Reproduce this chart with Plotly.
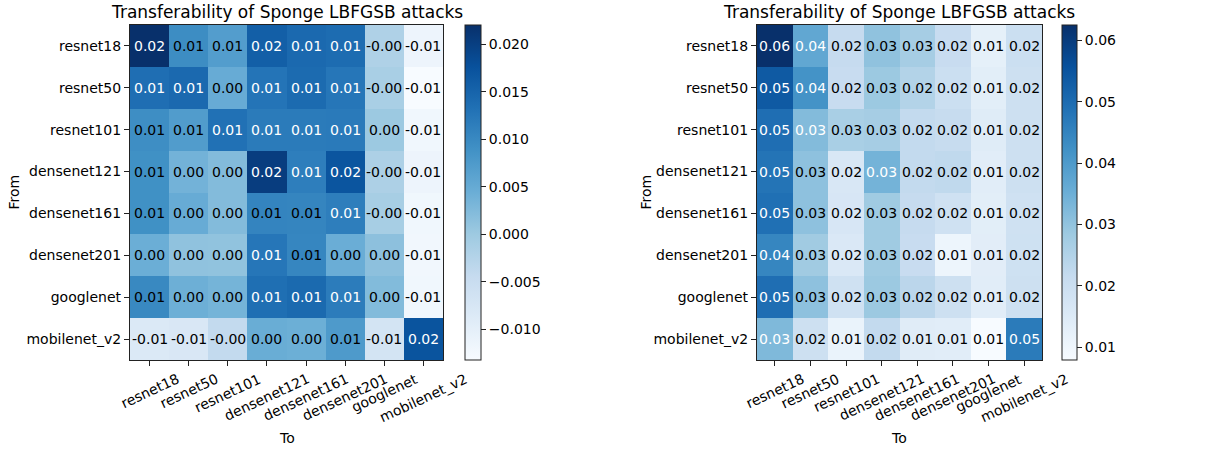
import plotly.graph_objects as go

# Model names (rows = source "From", columns = target "To")
models = ["resnet18", "resnet50", "resnet101", "densenet121",
          "densenet161", "densenet201", "googlenet", "mobilenet_v2"]

# Left panel: transferability scores
left_values = [
    [0.0220, 0.0095, 0.0070, 0.0157, 0.0143, 0.0139, -0.0019, -0.0114],
    [0.0136, 0.0143, 0.0048, 0.0128, 0.0140, 0.0125, -0.0012, -0.0132],
    [0.0093, 0.0072, 0.0132, 0.0118, 0.0118, 0.0120, 0.0002, -0.0120],
    [0.0090, 0.0037, 0.0023, 0.0202, 0.0115, 0.0171, -0.0016, -0.0114],
    [0.0090, 0.0048, 0.0023, 0.0107, 0.0105, 0.0115, -0.0010, -0.0120],
    [0.0044, 0.0012, 0.0011, 0.0125, 0.0104, 0.0045, 0.0015, -0.0122],
    [0.0100, 0.0042, 0.0035, 0.0135, 0.0142, 0.0117, 0.0024, -0.0120],
    [-0.0083, -0.0078, -0.0041, 0.0046, 0.0043, 0.0075, -0.0068, 0.0172],
]

# Right panel: transferability scores
right_values = [
    [0.0625, 0.0368, 0.0216, 0.0303, 0.0270, 0.0210, 0.0128, 0.0200],
    [0.0538, 0.0417, 0.0210, 0.0286, 0.0248, 0.0200, 0.0135, 0.0195],
    [0.0494, 0.0320, 0.0265, 0.0270, 0.0220, 0.0212, 0.0145, 0.0195],
    [0.0483, 0.0305, 0.0165, 0.0340, 0.0220, 0.0225, 0.0140, 0.0195],
    [0.0490, 0.0305, 0.0168, 0.0280, 0.0215, 0.0190, 0.0135, 0.0190],
    [0.0445, 0.0278, 0.0158, 0.0280, 0.0210, 0.0105, 0.0137, 0.0192],
    [0.0495, 0.0305, 0.0190, 0.0286, 0.0235, 0.0195, 0.0140, 0.0195],
    [0.0325, 0.0195, 0.0115, 0.0220, 0.0143, 0.0140, 0.0079, 0.0467],
]

title_text = "Transferability of Sponge LBFGSB attacks"

W, H = 1215, 452
FONT = "DejaVu Sans"

blues = [
    [0.000, "#f7fbff"], [0.125, "#deebf7"], [0.250, "#c6dbef"],
    [0.375, "#9ecae1"], [0.500, "#6baed6"], [0.625, "#4292c6"],
    [0.750, "#2171b5"], [0.875, "#08519c"], [1.000, "#08306b"],
]


def px_x(p):
    return p / W


def px_y(p):
    return 1 - p / H


panels = [
    dict(values=left_values, xl=130, xr=443, cbx=465, cbw=16,
         fmt=".3f", dtick=0.005, ytitle_x=13),
    dict(values=right_values, xl=757, xr=1042, cbx=1062, cbw=15,
         fmt=".2f", dtick=0.01, ytitle_x=645),
]
top_px, bot_px = 25, 360
nm = len(models)

fig = go.Figure()
annotations = []
layout_axes = {}

for i, p in enumerate(panels):
    n = i + 1
    xa = "x" if n == 1 else f"x{n}"
    ya = "y" if n == 1 else f"y{n}"
    vals = p["values"]
    flat = [v for row in vals for v in row]
    zmin, zmax = min(flat), max(flat)

    fig.add_trace(go.Heatmap(
        z=vals, x=models, y=models, xaxis=xa, yaxis=ya,
        zmin=zmin, zmax=zmax, colorscale=blues,
        colorbar=dict(
            x=px_x(p["cbx"]), xanchor="left",
            y=(px_y(top_px) + px_y(bot_px)) / 2, yanchor="middle",
            len=(bot_px - top_px) / H, lenmode="fraction",
            thickness=p["cbw"], thicknessmode="pixels",
            xpad=0, ypad=0,
            outlinecolor="#222", outlinewidth=1,
            ticks="outside", ticklen=5, tickcolor="#222",
            tickformat=p["fmt"], tick0=0, dtick=p["dtick"],
            tickfont=dict(family=FONT, size=14, color="black"),
        ),
    ))

    dom_x = [px_x(p["xl"]), px_x(p["xr"])]
    dom_y = [px_y(bot_px), px_y(top_px)]
    axis_common = dict(showline=True, mirror=True, linecolor="#222", linewidth=1.2,
                       ticks="outside", ticklen=5, tickcolor="#222",
                       showgrid=False, zeroline=False, automargin=False,
                       type="category",
                       tickfont=dict(family=FONT, size=14, color="black"))
    layout_axes[f"xaxis{'' if n == 1 else n}"] = dict(
        domain=dom_x, anchor=ya, showticklabels=False,
        range=[-0.5, nm - 0.5], autorange=False, **axis_common)
    layout_axes[f"yaxis{'' if n == 1 else n}"] = dict(
        domain=dom_y, anchor=xa,
        range=[nm - 0.5, -0.5], autorange=False, **axis_common)

    # cell value labels
    thresh = zmax / 2
    for r, src in enumerate(models):
        for c, dst in enumerate(models):
            v = vals[r][c]
            annotations.append(dict(
                x=dst, y=src, xref=xa, yref=ya, text=f"{v:.2f}",
                showarrow=False,
                font=dict(family=FONT, size=14,
                          color="white" if v > thresh else "black"),
            ))

    # rotated x tick labels, centred under each tick
    for m in models:
        annotations.append(dict(
            x=m, y=px_y(368), xref=xa, yref="paper", text=m,
            textangle=-25, showarrow=False, xanchor="center", yanchor="top",
            font=dict(family=FONT, size=14, color="black"),
        ))

    # panel title and axis titles
    cx = (dom_x[0] + dom_x[1]) / 2
    annotations.append(dict(
        x=cx, y=px_y(12), xref="paper", yref="paper", text=title_text,
        showarrow=False, xanchor="center", yanchor="middle",
        font=dict(family=FONT, size=17, color="black"),
    ))
    annotations.append(dict(
        x=cx, y=px_y(438), xref="paper", yref="paper", text="To",
        showarrow=False, xanchor="center", yanchor="middle",
        font=dict(family=FONT, size=14, color="black"),
    ))
    annotations.append(dict(
        x=px_x(p["ytitle_x"]), y=(dom_y[0] + dom_y[1]) / 2,
        xref="paper", yref="paper", text="From", textangle=-90,
        showarrow=False, xanchor="center", yanchor="middle",
        font=dict(family=FONT, size=14, color="black"),
    ))

fig.update_layout(
    width=W, height=H,
    margin=dict(l=0, r=0, t=0, b=0),
    paper_bgcolor="white", plot_bgcolor="white",
    font=dict(family=FONT, size=14, color="black"),
    annotations=annotations,
    **layout_axes,
)

fig.write_html("out.html")
